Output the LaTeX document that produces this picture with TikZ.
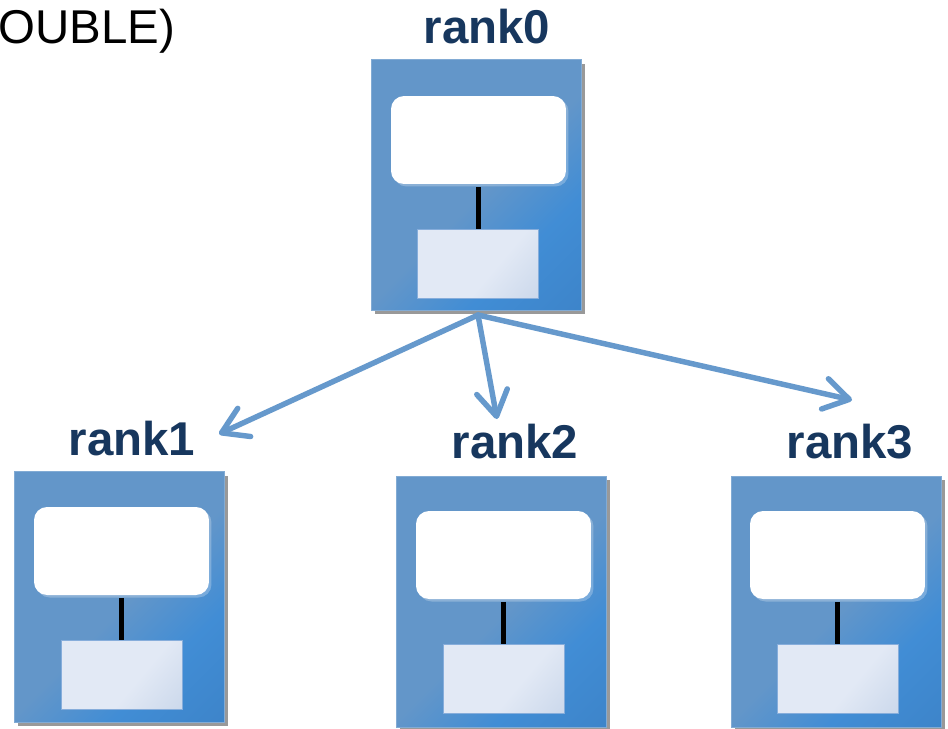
\documentclass[tikz,border=0pt]{standalone}
\usepackage{fontspec}
\setmainfont{Liberation Sans}
\usetikzlibrary{shadows,arrows.meta}
\definecolor{boxA}{HTML}{6396C9}
\definecolor{boxB}{HTML}{418DD5}
\definecolor{boxC}{HTML}{3A7DC0}
\definecolor{liteA}{HTML}{E2E9F5}
\definecolor{liteB}{HTML}{BFCFE6}
\definecolor{liteEdge}{HTML}{86ADDB}
\definecolor{arrowblue}{HTML}{6699CC}
\definecolor{labelnavy}{HTML}{17375E}
\pgfdeclarehorizontalshading{outershade}{100bp}{color(0bp)=(boxA); color(52bp)=(boxA); color(68bp)=(boxB); color(100bp)=(boxC)}
\pgfdeclarehorizontalshading{liteshade}{100bp}{color(0bp)=(liteA); color(58bp)=(liteA); color(100bp)=(liteB)}
\tikzset{
  outerbox/.style={rectangle, minimum width=4.2cm, minimum height=5.02cm, inner sep=0pt,
    shading=outershade, shading angle=-45, draw=boxA!80!white, line width=0.4pt,
    drop shadow={shadow xshift=0.08cm, shadow yshift=-0.08cm, fill=black, opacity=0.4}},
  whitebox/.style={rectangle, rounded corners=0.26cm, minimum width=3.5cm, minimum height=1.76cm,
    inner sep=0pt, fill=white,
    drop shadow={shadow xshift=0.05cm, shadow yshift=-0.05cm, fill=white, opacity=0.25}},
  litebox/.style={rectangle, minimum width=2.42cm, minimum height=1.38cm, inner sep=0pt,
    shading=liteshade, shading angle=-40, draw=liteEdge, line width=0.5pt},
  stem/.style={black, line width=3pt, shorten <=1.5pt},
  rankarrow/.style={arrowblue, line width=3.1pt, line cap=round,
    -{Straight Barb[length=5mm, width=6.2mm, line width=3.1pt, round]}},
  ranklabel/.style={anchor=base, inner sep=0pt, text=labelnavy, font=\fontsize{27}{30}\selectfont\bfseries}
}
\begin{document}
\begin{tikzpicture}[x=0.02cm, y=-0.02cm]
\useasboundingbox (0,0) rectangle (948,728);
\fill[white] (0,0) rectangle (948,728);

\node[anchor=base west, inner sep=0pt, font=\fontsize{27}{30}\selectfont] (dbl) at (-2,43) {OUBLE)};

% rank0
\node[ranklabel] (lab0) at (487,43) {rank0};
\node[outerbox] (box0) at (476,185) {};
\node[whitebox] (w0) at (478.5,140) {};
\node[litebox] (l0) at (478,263.5) {};
\draw[stem] (w0.south) -- (w0.south |- l0.north);

% rank1
\node[ranklabel] (lab1) at (132,455) {rank1};
\node[outerbox] (box1) at (119,597) {};
\node[whitebox] (w1) at (121.5,551) {};
\node[litebox] (l1) at (121.5,674.5) {};
\draw[stem] (w1.south) -- (w1.south |- l1.north);

% rank2
\node[ranklabel] (lab2) at (515,458) {rank2};
\node[outerbox] (box2) at (501,601.5) {};
\node[whitebox] (w2) at (503.5,555) {};
\node[litebox] (l2) at (503.5,678.5) {};
\draw[stem] (w2.south) -- (w2.south |- l2.north);

% rank3
\node[ranklabel] (lab3) at (850,458) {rank3};
\node[outerbox] (box3) at (836,601.5) {};
\node[whitebox] (w3) at (837.5,555) {};
\node[litebox] (l3) at (837.5,678.5) {};
\draw[stem] (w3.south) -- (w3.south |- l3.north);

% arrows
\coordinate (src) at (478,315);
\coordinate (t1) at (219,434);
\coordinate (t2) at (497,419);
\coordinate (t3) at (852,400);
\draw[rankarrow] (src) -- (t1);
\draw[rankarrow] (src) -- (t2);
\draw[rankarrow] (src) -- (t3);
\end{tikzpicture}
\end{document}
